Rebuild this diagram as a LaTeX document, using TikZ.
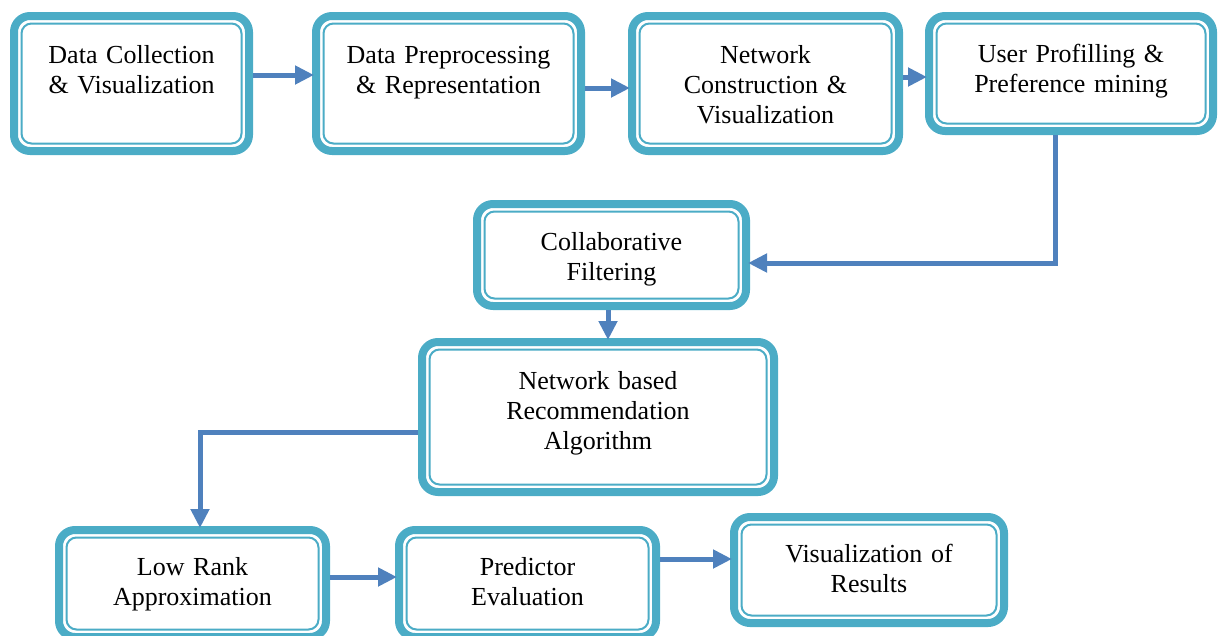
\documentclass[tikz,border=0pt]{standalone}
\usepackage{fontspec}
\setmainfont{Liberation Serif}
\usepackage{tikz}
\usetikzlibrary{arrows.meta}

\definecolor{boxteal}{HTML}{4BACC6}
\definecolor{arrowblue}{HTML}{4F81BD}

\begin{document}
\begin{tikzpicture}[x=1pt, y=-1pt,
  stage/.style={rectangle, draw=boxteal, line width=8pt, rounded corners=16pt, fill=white,
    inner sep=0pt, outer sep=0pt, anchor=north west, align=center,
    font=\fontsize{26}{30}\selectfont},
  innerline/.style={draw=boxteal, line width=2pt, rounded corners=10pt},
  flow/.style={draw=arrowblue, line width=5pt, -{Triangle[length=19pt,width=18pt]},
    shorten <=4pt, shorten >=2pt}]
\useasboundingbox (0,0) rectangle (1219,635);

\node[stage, text width=235pt, text height=47pt, text depth=88pt] (1) at (14,16) {Data Collection\\ \& Visualization};
\node[stage, text width=265pt, text height=47pt, text depth=88pt] (2) at (316,16) {Data Preprocessing\\ \& Representation};
\node[stage, text width=267pt, text height=47pt, text depth=88pt] (3) at (632,16) {Network\\ Construction \&\\ Visualization};
\node[stage, text width=284pt, text height=46pt, text depth=69pt] (4) at (929,16) {User Profilling \&\\ Preference mining};
\node[stage, text width=269pt, text height=46pt, text depth=56pt] (5) at (477,204) {Collaborative\\ Filtering};
\node[stage, text width=352pt, text height=47pt, text depth=103pt] (6) at (422,342) {Network based\\ Recommendation\\ Algorithm};
\node[stage, text width=267pt, text height=45pt, text depth=62pt] (7) at (59,530) {Low Rank\\ Approximation};
\node[stage, text width=257pt, text height=45pt, text depth=62pt] (8) at (399,530) {Predictor\\ Evaluation};
\node[stage, text width=270pt, text height=45pt, text depth=61pt] (9) at (734,517) {Visualization of\\ Results};

% thin inner border of every box
\foreach \n in {1,...,9}
  \draw[innerline] ([shift={(7.5,7.5)}]\n.north west) rectangle ([shift={(-7.5,-7.5)}]\n.south east);

\draw[flow] ([yshift=8.5pt]1.east) -- ([yshift=8.5pt]2.west);
\draw[flow] ([yshift=-4.5pt]2.east) -- ([yshift=-4.5pt]3.west);
\draw[flow] ([yshift=6.5pt]3.east) -- ([yshift=-3.5pt]4.west);
\draw[flow] ([xshift=-16pt]4.south) |- ([yshift=-8pt]5.east);
\draw[flow] ([xshift=-3.5pt]5.south) -- ([xshift=10pt]6.north);
\draw[flow] ([yshift=-15pt]6.west) -| ([xshift=7.5pt]7.north);
\draw[flow] ([yshift=6.5pt]7.east) -- ([yshift=6.5pt]8.west);
\draw[flow] ([yshift=24.5pt]8.east) -- ([yshift=11pt]9.west);
\end{tikzpicture}
\end{document}
